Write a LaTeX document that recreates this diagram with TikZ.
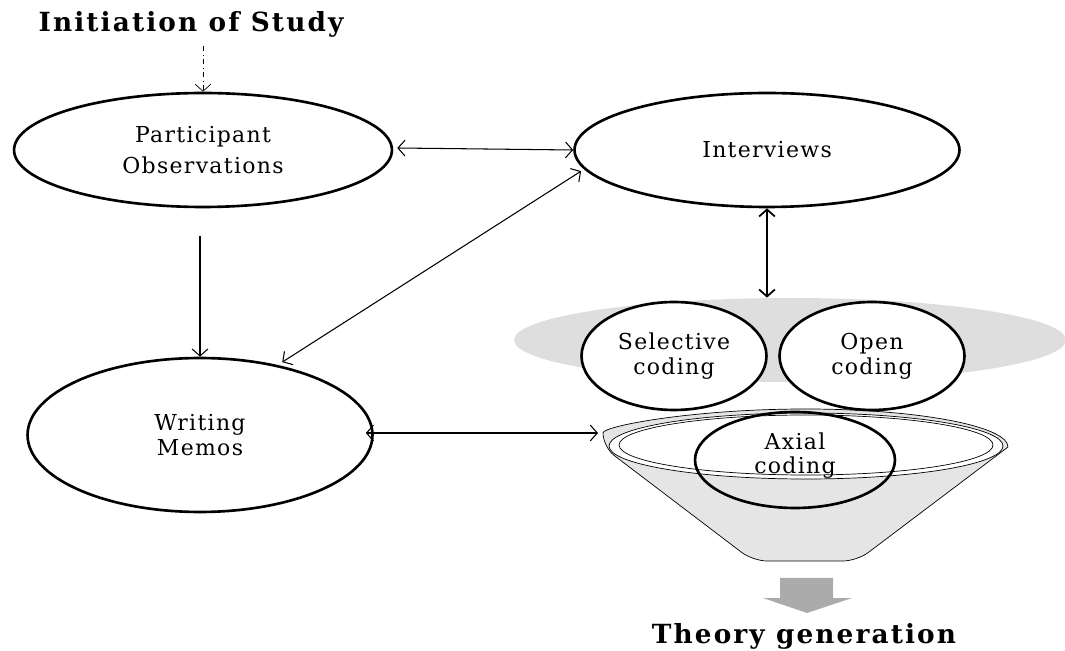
\documentclass[tikz,border=0pt]{standalone}
\usepackage{fontspec}
\setmainfont{DejaVu Serif}
\usetikzlibrary{shapes.geometric, arrows.meta}

\begin{document}
\begin{tikzpicture}[x=0.02cm, y=-0.02cm, >={Straight Barb[length=4pt, width=9pt]}]

	% Colours
	\colorlet{shadecolor}{black!13}
	\colorlet{funnelcolor}{black!10}
	\colorlet{bigarrowcolor}{black!33}

	% Styles
	\tikzstyle{stage}=[ellipse, draw, line width=1.5pt, fill=white, align=center,
		font=\fontsize{12.5}{14}\selectfont\addfontfeature{LetterSpace=6}, inner sep=0pt]
	\tikzstyle{flow}=[<->, semithick]
	\tikzstyle{heading}=[font=\fontsize{15}{17}\selectfont\bfseries\addfontfeature{LetterSpace=8}]

	\useasboundingbox (0,0) rectangle (1065,651);

	%== Start of study ========================================================
	\node[heading] (start) at (191, 24) {Initiation of Study};

	\node[stage, minimum width=7.56cm, minimum height=2.28cm] (obs) at (203, 150)
		{Participant\\[4pt]Observations};
	\node[stage, minimum width=7.7cm, minimum height=2.28cm] (intv) at (767, 150)
		{Interviews};
	\node[stage, minimum width=6.9cm, minimum height=3.08cm] (memo) at (200, 435)
		{Writing\\Memos};

	%== Coding ================================================================
	% Shaded band
	\node[ellipse, fill=shadecolor, minimum width=11.04cm, minimum height=1.68cm] (band) at (790, 340) {};

	% Funnel
	\draw[fill=funnelcolor, rounded corners=8pt] (1008, 447) -- (857, 561) -- (753, 561) -- (603, 447)
		[sharp corners] arc[start angle=180, end angle=360, x radius=202.5, y radius=38];
	\draw[fill=white] (806, 446) ellipse[x radius=197, y radius=33];
	\draw[fill=white] (806, 445) ellipse[x radius=187, y radius=30];
	\coordinate (funnelin) at (598, 433);

	\node[stage, minimum width=3.7cm, minimum height=2.16cm] (sel) at (674, 356) {Selective\\coding};
	\node[stage, minimum width=3.7cm, minimum height=2.16cm] (open) at (872, 356) {Open\\coding};
	\node[stage, fill=none, minimum width=4cm, minimum height=1.92cm] (axial) at (795, 460)
		{Axial\\coding\\[-6pt]};

	% Output
	\fill[bigarrowcolor] (780, 578) -- (833, 578) -- (833, 598) -- (852, 598) -- (807, 613)
		-- (763, 598) -- (780, 598) -- cycle;
	\node[heading] (theory) at (804, 636) {Theory generation};

	%== Connectors ============================================================
	\draw[->, dash dot] (start.south -| obs.north) ++(0, 3) -- (obs.north);
	\draw[flow] (obs.east) ++(4, -2) -- (intv.west);
	\draw[->, semithick] (obs.south) ++(-3, 28) -- (memo.north);
	\draw[flow, shorten <=3pt, shorten >=2pt] (memo.42) -- (intv.186);
	\draw[flow, line width=1pt] (intv.south) -- (intv.south |- band.north);
	\draw[flow] (memo.east) ++(-8, -2) -- (funnelin);

\end{tikzpicture}
\end{document}
